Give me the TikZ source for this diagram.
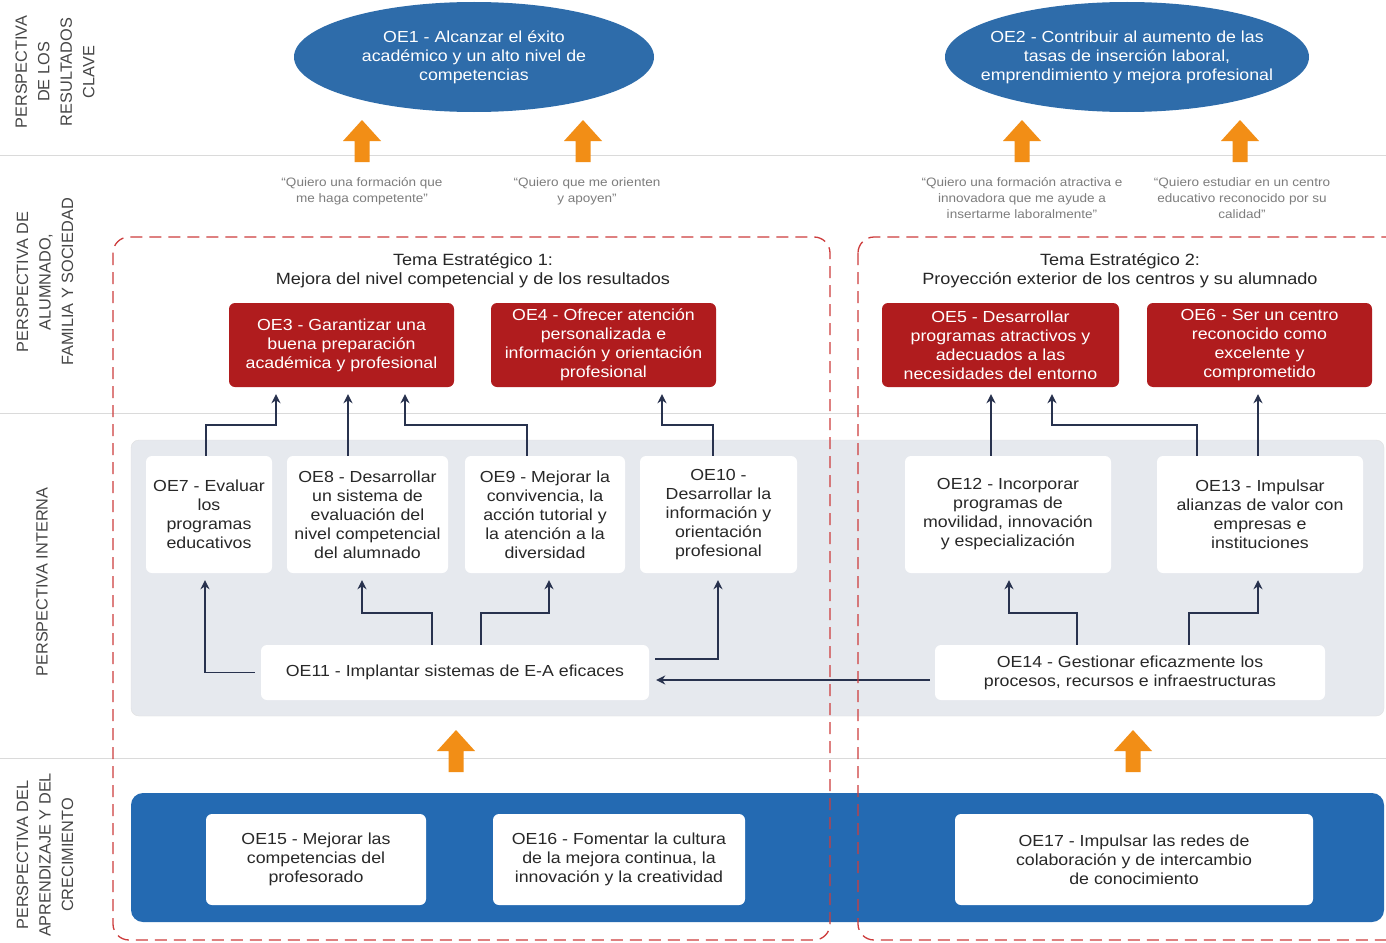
\documentclass[tikz,border=0pt]{standalone}
\usepackage{fontspec}
\setmainfont{Liberation Sans}[FakeStretch=1.11]
\newfontfamily\labfont{Liberation Sans}
\usetikzlibrary{arrows.meta,shapes.geometric}
\definecolor{blueE}{RGB}{46,108,170}
\definecolor{blueband}{RGB}{36,106,178}
\definecolor{redc}{RGB}{176,28,30}
\definecolor{orangec}{RGB}{242,142,22}
\definecolor{navy}{RGB}{40,50,78}
\definecolor{panelc}{RGB}{230,233,238}
\definecolor{dashred}{RGB}{205,60,60}
\definecolor{divc}{RGB}{218,218,218}
\definecolor{labc}{RGB}{70,70,70}
\definecolor{quotec}{RGB}{125,125,125}
\definecolor{boxtext}{RGB}{40,40,40}
\tikzset{
  boxbase/.style={rectangle, rounded corners=6pt, align=center, inner sep=2pt, font=\fontsize{16}{19}\selectfont},
  redbox/.style={boxbase, fill=redc, text=white, minimum height=84pt},
  whitebox/.style={boxbase, fill=white, text=boxtext},
  ell/.style={ellipse, fill=blueE, text=white, align=center, inner xsep=-40pt, inner ysep=-10pt, font=\fontsize{16}{19}\selectfont},
  conn/.style={draw=navy, line width=1.8pt, -{Stealth[length=9pt,width=9pt]}, shorten >=7pt},
  quote/.style={align=center, text=quotec, font=\fontsize{12.2}{16}\selectfont},
  tema/.style={align=center, text=black!85, font=\fontsize{16.3}{19}\selectfont},
  persp/.style={rotate=90, align=center, text=labc, font=\labfont\fontsize{16.3}{22.5}\selectfont},
  divider/.style={draw=divc, line width=1pt},
  dashbox/.style={draw=dashred, line width=1.3pt, dash pattern=on 12pt off 7pt, rounded corners=16pt},
  uparr/.pic={\fill[orangec] (-7.5,0) -- (-7.5,-21) -- (-19,-21) -- (0,-42) -- (19,-21) -- (7.5,-21) -- (7.5,0) -- cycle;}
}
\begin{document}
\begin{tikzpicture}[x=1pt,y=-1pt]
\useasboundingbox (0,0) rectangle (1386,942);
\clip (0,0) rectangle (1386,942);
\fill[white] (0,0) rectangle (1386,942);

% dividers
\draw[divider] (0,155) -- (1386,155);
\draw[divider] (0,413) -- (1386,413);
\draw[divider] (0,758) -- (1386,758);

% perspective labels
\node[persp] (p1) at (55,72) {PERSPECTIVA\\DE LOS\\RESULTADOS\\CLAVE};
\node[persp] (p2) at (45,282) {PERSPECTIVA DE\\ALUMNADO,\\FAMILIA Y SOCIEDAD};
\node[persp] (p3) at (42,582) {PERSPECTIVA INTERNA};
\node[persp] (p4) at (45,855) {PERSPECTIVA DEL\\APRENDIZAJE Y DEL\\CRECIMIENTO};

% ellipses
\node[ell, minimum width=360pt, minimum height=110pt] (oe1) at (474,57) {OE1 - Alcanzar el éxito\\académico y un alto nivel de\\competencias};
\node[ell, minimum width=364pt, minimum height=110pt] (oe2) at (1127,57) {OE2 - Contribuir al aumento de las\\tasas de inserción laboral,\\emprendimiento y mejora profesional};

% orange arrows
\pic at (362,162) {uparr};
\pic at (583,162) {uparr};
\pic at (1022,162) {uparr};
\pic at (1240,162) {uparr};
\pic at (456,772) {uparr};
\pic at (1133,772) {uparr};

% quotes
\node[quote] (q1) at (362,191) {“Quiero una formación que\\me haga competente”};
\node[quote] (q2) at (587,191) {“Quiero que me orienten\\y apoyen”};
\node[quote] (q3) at (1022,198) {“Quiero una formación atractiva e\\innovadora que me ayude a\\insertarme laboralmente”};
\node[quote] (q4) at (1242,198) {“Quiero estudiar en un centro\\educativo reconocido por su\\calidad”};

% gray panel
\fill[panelc, draw=black!12, rounded corners=8pt] (131,440) rectangle (1384,716);

% blue band
\fill[blueband, rounded corners=12pt] (131,793) rectangle (1384,922);

% tema titles
\node[tema] (t1) at (473,271) {Tema Estratégico 1:\\Mejora del nivel competencial y de los resultados};
\node[tema] (t2) at (1120,271) {Tema Estratégico 2:\\Proyección exterior de los centros y su alumnado};

% red boxes
\node[redbox, minimum width=225pt] (oe3) at (341.5,345) {OE3 - Garantizar una\\buena preparación\\académica y profesional};
\node[redbox, minimum width=225pt] (oe4) at (603.5,345) {OE4 - Ofrecer atención\\personalizada e\\información y orientación\\profesional};
\node[redbox, minimum width=237pt] (oe5) at (1000.5,345) {OE5 - Desarrollar\\programas atractivos y\\adecuados a las\\necesidades del entorno};
\node[redbox, minimum width=225pt] (oe6) at (1259.5,345) {OE6 - Ser un centro\\reconocido como\\excelente y\\comprometido};

% internal boxes
\node[whitebox, minimum width=126pt, minimum height=117pt] (oe7) at (209,514.5) {OE7 - Evaluar\\los\\programas\\educativos};
\node[whitebox, minimum width=161pt, minimum height=117pt] (oe8) at (367.5,514.5) {OE8 - Desarrollar\\un sistema de\\evaluación del\\nivel competencial\\del alumnado};
\node[whitebox, minimum width=160pt, minimum height=117pt] (oe9) at (545,514.5) {OE9 - Mejorar la\\convivencia, la\\acción tutorial y\\la atención a la\\diversidad};
\node[whitebox, minimum width=157pt, minimum height=117pt] (oe10) at (718.5,514.5) {OE10 -\\Desarrollar la\\información y\\orientación\\profesional};
\node[whitebox, minimum width=206pt, minimum height=117pt] (oe12) at (1008,514.5) {OE12 - Incorporar\\programas de\\movilidad, innovación\\y especialización};
\node[whitebox, minimum width=206pt, minimum height=117pt] (oe13) at (1260,514.5) {OE13 - Impulsar\\alianzas de valor con\\empresas e\\instituciones};
\node[whitebox, minimum width=388pt, minimum height=55pt] (oe11) at (455,672.5) {OE11 - Implantar sistemas de E-A eficaces};
\node[whitebox, minimum width=390pt, minimum height=55pt] (oe14) at (1130,672.5) {OE14 - Gestionar eficazmente los\\procesos, recursos e infraestructuras};

% learning boxes
\node[whitebox, minimum width=220pt, minimum height=91pt] (oe15) at (316,859.5) {OE15 - Mejorar las\\competencias del\\profesorado};
\node[whitebox, minimum width=252pt, minimum height=91pt] (oe16) at (619,859.5) {OE16 - Fomentar la cultura\\de la mejora continua, la\\innovación y la creatividad};
\node[whitebox, minimum width=358pt, minimum height=91pt] (oe17) at (1134,859.5) {OE17 - Impulsar las redes de\\colaboración y de intercambio\\de conocimiento};

% connectors
\draw[conn] (206,0 |- oe7.north) -- (206,425) -| (276,0 |- oe3.south);
\draw[conn] (348,0 |- oe8.north) -- (348,0 |- oe3.south);
\draw[conn] (527,0 |- oe9.north) -- (527,425) -| (405,0 |- oe3.south);
\draw[conn] (713,0 |- oe10.north) -- (713,425) -| (662,0 |- oe4.south);
\draw[conn] (991,0 |- oe12.north) -- (991,0 |- oe5.south);
\draw[conn] (1197,0 |- oe13.north) -- (1197,425) -| (1052,0 |- oe5.south);
\draw[conn] (1258,0 |- oe13.north) -- (1258,0 |- oe6.south);
\draw[conn] ([xshift=-6pt]oe11.west) -| (205,0 |- oe7.south);
\draw[conn] (432,0 |- oe11.north) -- (432,613) -| (362,0 |- oe8.south);
\draw[conn] (481,0 |- oe11.north) -- (481,613) -| (549,0 |- oe9.south);
\draw[conn] ([xshift=6pt]oe11.east |- 0,659) -| (718,0 |- oe10.south);
\draw[conn] ([xshift=-5pt]oe14.west |- 0,680) -- (oe11.east |- 0,680);
\draw[conn] (1077,0 |- oe14.north) -- (1077,613) -| (1009,0 |- oe12.south);
\draw[conn] (1189,0 |- oe14.north) -- (1189,613) -| (1258,0 |- oe13.south);

% dashed theme boxes
\draw[dashbox] (113,237) rectangle (830,940);
\draw[dashbox] (858,237) rectangle (1410,940);
\end{tikzpicture}
\end{document}
